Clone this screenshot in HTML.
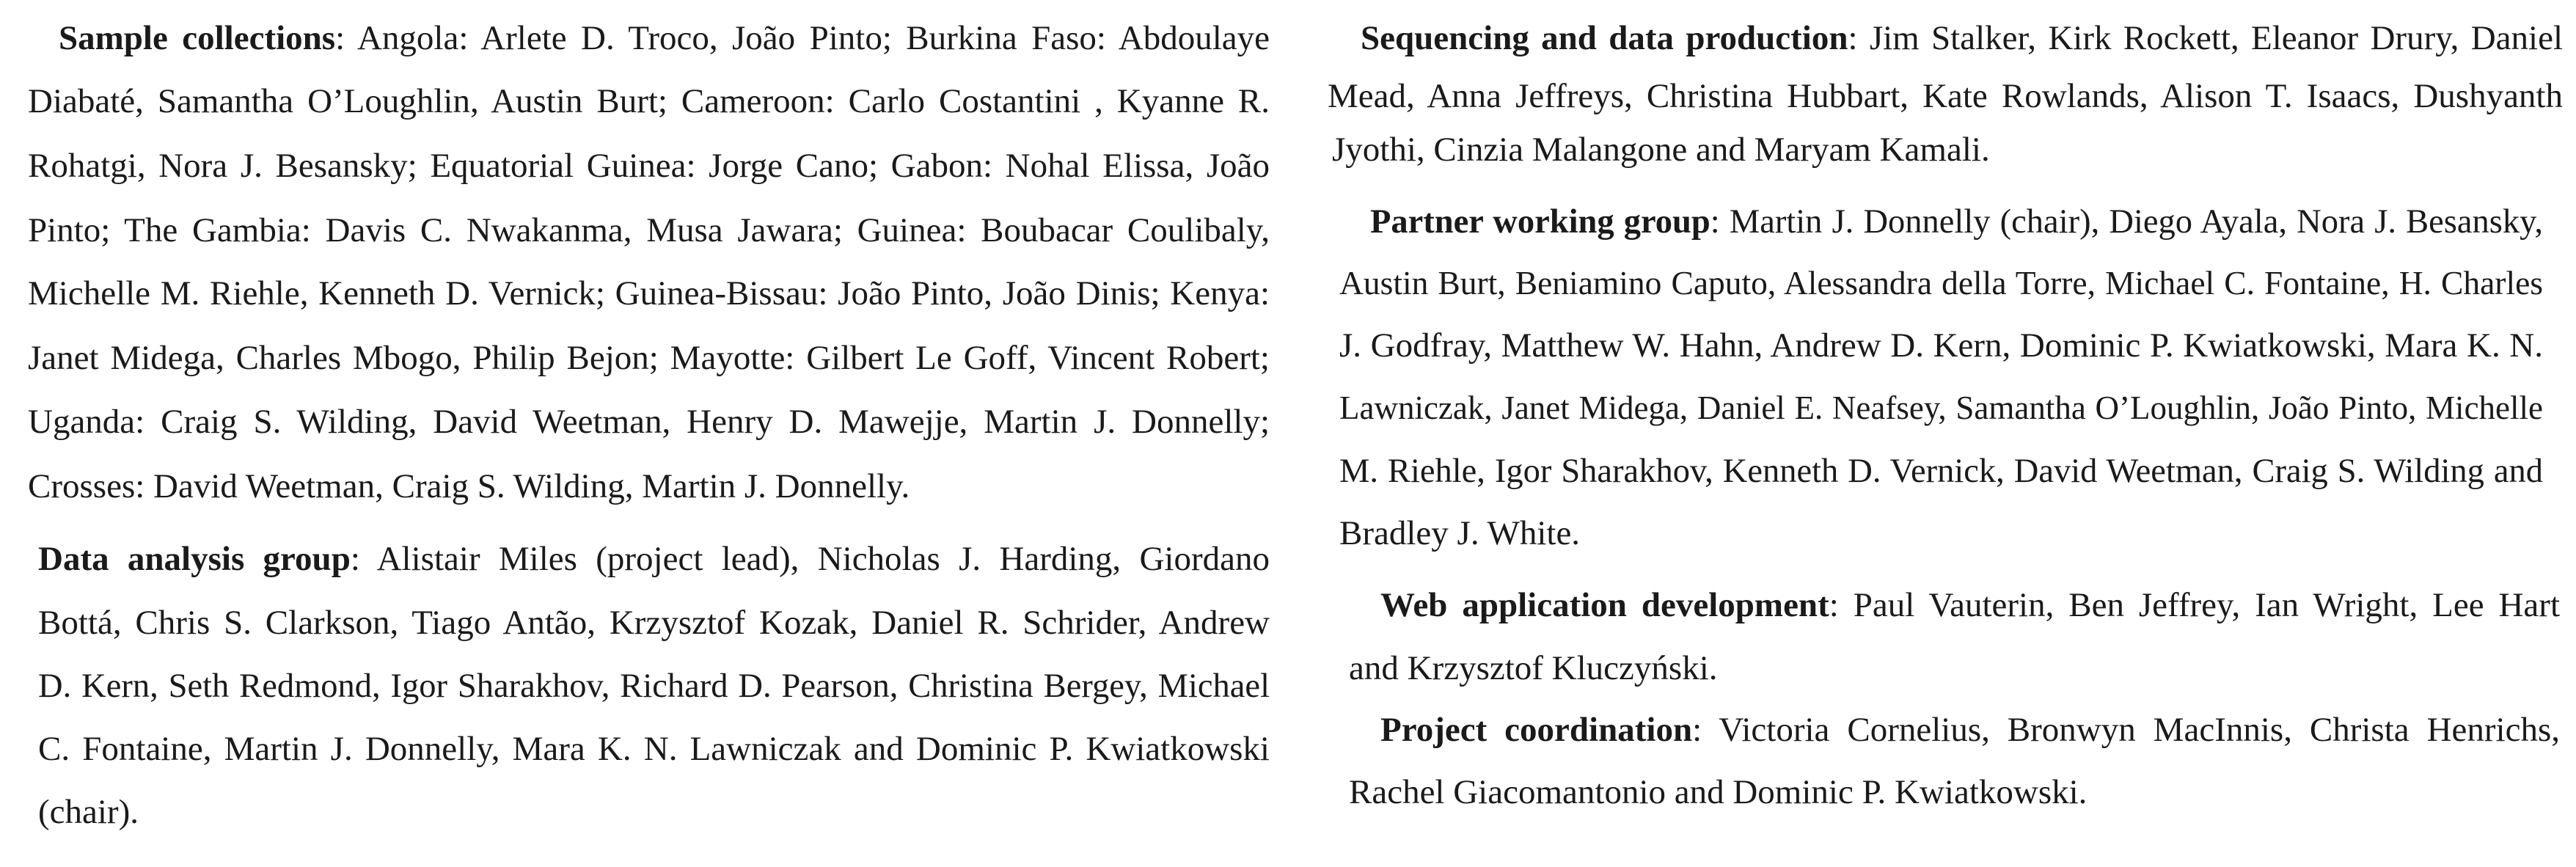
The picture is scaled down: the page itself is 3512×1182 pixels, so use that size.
<!DOCTYPE html>
<html><head><meta charset="utf-8">
<style>
body{margin:0;width:3512px;height:1182px;background:#fff;position:relative;overflow:hidden;font-family:"Liberation Serif","DejaVu Serif",serif;color:#1a1a1a;}
.l{position:absolute;height:60px;line-height:60px;font-size:47px;white-space:nowrap;text-align:justify;text-align-last:justify;overflow:hidden;}
.e{text-align-last:left;}
b{font-weight:bold;}
</style></head><body>
<div>
<div class="l" style="left:80px;width:1651px;top:22px"><b>Sample collections</b>: Angola: Arlete D. Troco, João Pinto; Burkina Faso: Abdoulaye</div>
<div class="l" style="left:38px;width:1693px;top:108px">Diabaté, Samantha O’Loughlin, Austin Burt; Cameroon: Carlo Costantini , Kyanne R.</div>
<div class="l" style="left:38px;width:1693px;top:196px">Rohatgi, Nora J. Besansky; Equatorial Guinea: Jorge Cano; Gabon: Nohal Elissa, João</div>
<div class="l" style="left:38px;width:1693px;top:284px">Pinto; The Gambia: Davis C. Nwakanma, Musa Jawara; Guinea: Boubacar Coulibaly,</div>
<div class="l" style="left:38px;width:1693px;top:370px">Michelle M. Riehle, Kenneth D. Vernick; Guinea-Bissau: João Pinto, João Dinis; Kenya:</div>
<div class="l" style="left:38px;width:1693px;top:458px">Janet Midega, Charles Mbogo, Philip Bejon; Mayotte: Gilbert Le Goff, Vincent Robert;</div>
<div class="l" style="left:38px;width:1693px;top:545px">Uganda: Craig S. Wilding, David Weetman, Henry D. Mawejje, Martin J. Donnelly;</div>
<div class="l e" style="left:38px;width:1693px;top:633px">Crosses: David Weetman, Craig S. Wilding, Martin J. Donnelly.</div>
</div>
<div>
<div class="l" style="left:52px;width:1679px;top:732px"><b>Data analysis group</b>: Alistair Miles (project lead), Nicholas J. Harding, Giordano</div>
<div class="l" style="left:52px;width:1679px;top:819px">Bottá, Chris S. Clarkson, Tiago Antão, Krzysztof Kozak, Daniel R. Schrider, Andrew</div>
<div class="l" style="left:52px;width:1679px;top:906px">D. Kern, Seth Redmond, Igor Sharakhov, Richard D. Pearson, Christina Bergey, Michael</div>
<div class="l" style="left:52px;width:1679px;top:991px">C. Fontaine, Martin J. Donnelly, Mara K. N. Lawniczak and Dominic P. Kwiatkowski</div>
<div class="l e" style="left:52px;width:1679px;top:1077px">(chair).</div>
</div>
<div>
<div class="l" style="left:1855px;width:1639px;top:22px"><b>Sequencing and data production</b>: Jim Stalker, Kirk Rockett, Eleanor Drury, Daniel</div>
<div class="l" style="left:1810px;width:1684px;top:101px">Mead, Anna Jeffreys, Christina Hubbart, Kate Rowlands, Alison T. Isaacs, Dushyanth</div>
<div class="l e" style="left:1816px;width:1678px;top:174px">Jyothi, Cinzia Malangone and Maryam Kamali.</div>
</div>
<div>
<div class="l" style="left:1868px;width:1599px;top:273px"><b>Partner working group</b>: Martin J. Donnelly (chair), Diego Ayala, Nora J. Besansky,</div>
<div class="l" style="left:1826px;width:1641px;top:356px">Austin Burt, Beniamino Caputo, Alessandra della Torre, Michael C. Fontaine, H. Charles</div>
<div class="l" style="left:1826px;width:1641px;top:441px">J. Godfray, Matthew W. Hahn, Andrew D. Kern, Dominic P. Kwiatkowski, Mara K. N.</div>
<div class="l" style="left:1826px;width:1641px;top:526px">Lawniczak, Janet Midega, Daniel E. Neafsey, Samantha O’Loughlin, João Pinto, Michelle</div>
<div class="l" style="left:1826px;width:1641px;top:613px">M. Riehle, Igor Sharakhov, Kenneth D. Vernick, David Weetman, Craig S. Wilding and</div>
<div class="l e" style="left:1826px;width:1641px;top:697px">Bradley J. White.</div>
</div>
<div>
<div class="l" style="left:1882px;width:1608px;top:795px"><b>Web application development</b>: Paul Vauterin, Ben Jeffrey, Ian Wright, Lee Hart</div>
<div class="l e" style="left:1839px;width:1651px;top:881px">and Krzysztof Kluczyński.</div>
</div>
<div>
<div class="l" style="left:1882px;width:1608px;top:965px"><b>Project coordination</b>: Victoria Cornelius, Bronwyn MacInnis, Christa Henrichs,</div>
<div class="l e" style="left:1839px;width:1651px;top:1050px">Rachel Giacomantonio and Dominic P. Kwiatkowski.</div>
</div>
<script>
document.querySelectorAll('.l').forEach(function(el){
  var ta=el.style.textAlign, tl=el.style.textAlignLast;
  el.style.textAlign='left'; el.style.textAlignLast='left';
  var fs=47, r=document.createRange();
  r.selectNodeContents(el);
  var avail=el.getBoundingClientRect().width-10;
  while(r.getBoundingClientRect().width>avail && fs>36){fs-=0.5;el.style.fontSize=fs+'px';}
  el.style.textAlign=ta; el.style.textAlignLast=tl;
});
</script>
</body></html>
